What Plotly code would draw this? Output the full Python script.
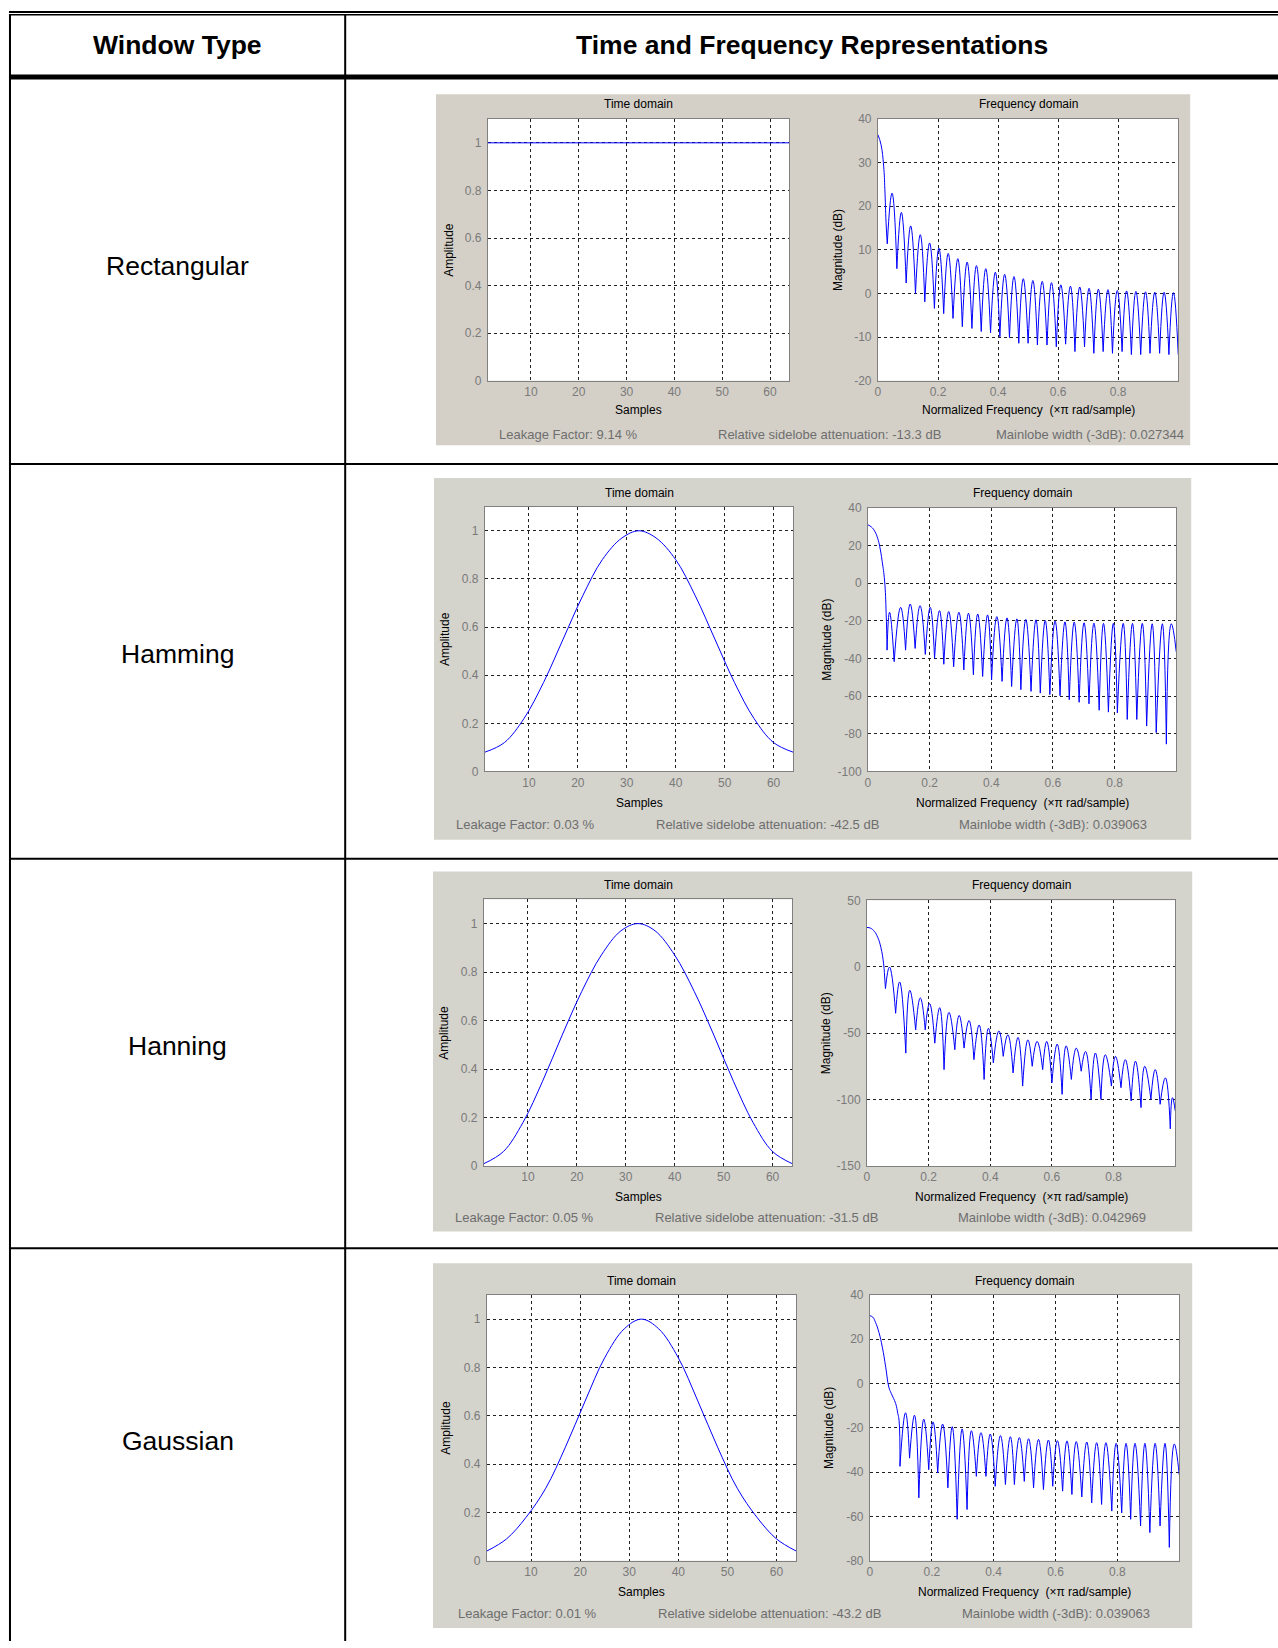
import plotly.graph_objects as go

W, H = 1278, 1648
FONT = "Arial, Liberation Sans, sans-serif"

# ---------------- data ----------------
window_names = ["Rectangular", "Hamming", "Hanning", "Gaussian"]
leakage_factor = ["9.14 %", "0.03 %", "0.05 %", "0.01 %"]
sidelobe_att = ["-13.3 dB", "-42.5 dB", "-31.5 dB", "-43.2 dB"]
mainlobe_width = ["0.027344", "0.039063", "0.042969", "0.039063"]

# time domain (samples 1..64)
rect_t_x = [1, 64]
rect_t_y = [1, 1]
sample_pts = [1, 5, 9, 13, 17, 21, 25, 29, 32.5, 36, 40, 44, 48, 52, 56, 60, 64]
hamm_t_y = [0.08, 0.12, 0.22, 0.37, 0.55, 0.73, 0.88, 0.97, 1.0, 0.97, 0.88, 0.73, 0.55, 0.37, 0.22, 0.12, 0.08]
hann_t_y = [0.01, 0.06, 0.18, 0.35, 0.54, 0.72, 0.87, 0.97, 1.0, 0.97, 0.87, 0.72, 0.54, 0.35, 0.18, 0.06, 0.01]
gauss_t_y = [0.04, 0.09, 0.18, 0.30, 0.47, 0.66, 0.84, 0.96, 1.0, 0.96, 0.84, 0.66, 0.47, 0.30, 0.18, 0.09, 0.04]

# frequency domain: main lobe, then side lobes (nulls and peaks)
rect_main_f = [0, 0.010, 0.019, 0.023, 0.027, 0.031]
rect_main_db = [36.4, 34.2, 29.2, 23.9, 16.3, 11.4]
rect_null_f = [0.031, 0.063, 0.094, 0.125, 0.156, 0.188, 0.219, 0.25, 0.281, 0.313, 0.344, 0.375, 0.406,
               0.438, 0.469, 0.5, 0.531, 0.563, 0.594, 0.625, 0.656, 0.688, 0.719, 0.75, 0.781, 0.813,
               0.844, 0.875, 0.906, 0.938, 0.969, 1.0]
rect_null_db = [11.4, 5.7, 2.4, 0.0, -1.9, -3.4, -4.6, -5.7, -7.6, -8.0, -8.7, -9.0, -9.9, -10.1, -11.4,
                -11.4, -11.8, -11.8, -12.2, -11.6, -13.3, -12.2, -13.7, -13.3, -13.7, -13.3, -14.0,
                -14.0, -13.7, -13.7, -14.0, -14.0]
rect_peak_f = [0.047, 0.078, 0.109, 0.141, 0.172, 0.203, 0.234, 0.266, 0.297, 0.328, 0.359, 0.391, 0.422,
               0.453, 0.484, 0.516, 0.547, 0.578, 0.609, 0.641, 0.672, 0.703, 0.734, 0.766, 0.797, 0.828,
               0.859, 0.891, 0.922, 0.953, 0.984]
rect_peak_db = [23.0, 18.6, 15.5, 13.5, 11.6, 10.4, 9.2, 8.0, 7.2, 6.4, 5.7, 4.9, 4.4, 3.9, 3.4, 3.0,
                2.8, 2.5, 2.0, 1.7, 1.5, 1.2, 1.0, 0.9, 0.7, 0.6, 0.5, 0.4, 0.3, 0.3, 0.2]

hamm_main_f = [0, 0.011, 0.022, 0.032, 0.038, 0.046, 0.054, 0.059, 0.062]
hamm_main_db = [30.9, 29.8, 27.5, 23.5, 19.5, 11.6, 1.1, -16.0, -35.6]
hamm_null_f = [0.062, 0.085, 0.122, 0.153, 0.186, 0.216, 0.246, 0.278, 0.311, 0.342, 0.372, 0.401, 0.435,
               0.466, 0.496, 0.529, 0.559, 0.590, 0.623, 0.653, 0.685, 0.717, 0.750, 0.780, 0.809, 0.841,
               0.872, 0.904, 0.935, 0.968, 1.0]
hamm_null_db = [-35.6, -41.7, -35.6, -34.7, -37.9, -40.0, -43.1, -44.4, -46.1, -48.7, -49.6, -51.4, -52.2,
                -54.9, -56.6, -57.5, -58.4, -59.2, -59.8, -61.9, -63.3, -64.1, -67.5, -68.5, -68.9, -72.4,
                -72.4, -75.9, -79.4, -85.5, -36.5]
hamm_peak_f = [0.070, 0.106, 0.137, 0.169, 0.202, 0.232, 0.262, 0.295, 0.326, 0.356, 0.388, 0.418, 0.451,
               0.483, 0.512, 0.545, 0.575, 0.607, 0.639, 0.669, 0.701, 0.733, 0.764, 0.796, 0.828, 0.858,
               0.890, 0.922, 0.955, 0.984]
hamm_peak_db = [-15.5, -12.9, -11.1, -12.0, -12.9, -14.6, -15.1, -15.5, -16.0, -16.4, -16.9, -17.8, -18.5,
                -19.0, -19.3, -19.5, -19.9, -20.2, -20.6, -20.7, -21.1, -21.3, -21.4, -21.4, -21.4, -21.4,
                -21.4, -21.6, -21.6, -21.6]

hann_main_f = [0, 0.012, 0.024, 0.035, 0.045, 0.054, 0.058, 0.060]
hann_main_db = [29.6, 29.0, 26.6, 22.1, 14.7, 2.2, -10.0, -16.4]
hann_null_f = [0.060, 0.093, 0.126, 0.158, 0.189, 0.220, 0.250, 0.285, 0.315, 0.347, 0.380, 0.410, 0.442,
               0.474, 0.505, 0.536, 0.570, 0.600, 0.633, 0.663, 0.695, 0.727, 0.759, 0.793, 0.824, 0.857,
               0.889, 0.921, 0.951, 0.984, 1.0]
hann_null_db = [-16.4, -35.0, -65.0, -47.5, -47.5, -57.5, -77.4, -62.4, -61.2, -69.9, -84.8, -72.4, -67.4,
                -79.9, -89.8, -74.9, -77.4, -87.3, -96.0, -84.8, -78.6, -99.8, -99.8, -89.8, -91.0, -101.0,
                -106.0, -99.8, -103.5, -122.0, -108.5]
hann_peak_f = [0.073, 0.106, 0.139, 0.173, 0.203, 0.236, 0.266, 0.299, 0.331, 0.364, 0.394, 0.428, 0.457,
               0.490, 0.522, 0.552, 0.583, 0.617, 0.646, 0.679, 0.709, 0.741, 0.773, 0.806, 0.838, 0.871,
               0.901, 0.935, 0.968, 0.991]
hann_peak_db = [-0.2, -11.4, -17.7, -23.4, -27.6, -30.8, -34.3, -36.6, -40.5, -43.8, -46.3, -48.3, -51.2,
                -53.2, -55.0, -56.2, -56.2, -58.2, -59.5, -61.2, -63.7, -64.9, -66.2, -67.4, -69.9, -71.1,
                -74.9, -77.4, -83.6, -98.5]

gauss_main_f = [0, 0.009, 0.018, 0.029, 0.040, 0.051, 0.061, 0.069, 0.083, 0.090, 0.094, 0.097]
gauss_main_db = [30.6, 30.0, 27.6, 23.1, 16.4, 7.4, -1.6, -4.5, -9.0, -13.5, -16.5, -37.4]
gauss_null_f = [0.097, 0.128, 0.158, 0.190, 0.219, 0.252, 0.282, 0.314, 0.344, 0.375, 0.405, 0.438, 0.467,
                0.499, 0.529, 0.561, 0.591, 0.623, 0.653, 0.685, 0.717, 0.749, 0.782, 0.814, 0.843, 0.875,
                0.905, 0.938, 0.968, 1.0]
gauss_null_db = [-37.4, -33.7, -51.6, -38.9, -40.4, -47.1, -61.3, -56.9, -41.9, -41.9, -46.4, -45.6, -45.6,
                 -44.2, -47.1, -47.9, -46.4, -48.6, -50.1, -51.2, -53.9, -54.6, -57.6, -58.4, -61.3, -64.3,
                 -67.3, -64.3, -74.0, -41.2]
gauss_peak_f = [0.115, 0.144, 0.174, 0.204, 0.235, 0.266, 0.298, 0.328, 0.359, 0.389, 0.422, 0.454, 0.483,
                0.513, 0.545, 0.577, 0.606, 0.637, 0.667, 0.701, 0.733, 0.763, 0.796, 0.828, 0.857, 0.889,
                0.922, 0.954, 0.984]
gauss_peak_db = [-13.2, -14.3, -16.1, -17.3, -18.3, -19.5, -20.5, -21.3, -22.2, -22.8, -23.5, -24.0, -24.4,
                 -24.9, -25.2, -25.5, -25.8, -25.9, -26.2, -26.4, -26.7, -26.7, -27.0, -27.0, -27.0, -27.0,
                 -27.0, -27.0, -27.3]

time_series = [(rect_t_x, rect_t_y), (sample_pts, hamm_t_y), (sample_pts, hann_t_y), (sample_pts, gauss_t_y)]
freq_series = [
    (rect_main_f, rect_main_db, rect_null_f, rect_null_db, rect_peak_f, rect_peak_db),
    (hamm_main_f, hamm_main_db, hamm_null_f, hamm_null_db, hamm_peak_f, hamm_peak_db),
    (hann_main_f, hann_main_db, hann_null_f, hann_null_db, hann_peak_f, hann_peak_db),
    (gauss_main_f, gauss_main_db, gauss_null_f, gauss_null_db, gauss_peak_f, gauss_peak_db),
]
freq_yticks = [(-20, 40, 10), (-100, 40, 20), (-150, 50, 50), (-80, 40, 20)]

# ---------------- layout geometry (pixels) ----------------
rows = [
    dict(panel=(434, 88, 1190, 442), t=(486, 113, 788, 377), f=(877, 113, 1178, 377), title_y=98,
         xlab_y=406, info_y=431, ylab_t=447, ylab_f=837, info_x=(495, 715, 993), label_y=261, pcol="#d4d0c8"),
    dict(panel=(432, 475, 1191, 840), t=(483, 504, 792, 771), f=(867, 505, 1176, 771), title_y=490,
         xlab_y=803, info_y=824, ylab_t=443, ylab_f=826, info_x=(452, 653, 956), label_y=653, pcol="#d4d3cc"),
    dict(panel=(431, 872, 1192, 1235), t=(482, 900, 791, 1169), f=(866, 901, 1175, 1169), title_y=886,
         xlab_y=1200, info_y=1221, ylab_t=442, ylab_f=825, info_x=(451, 652, 955), label_y=1048, pcol="#d4d3cc"),
    dict(panel=(431, 1267, 1192, 1635), t=(485, 1299, 795, 1567), f=(869, 1299, 1179, 1567), title_y=1285,
         xlab_y=1599, info_y=1620, ylab_t=444, ylab_f=828, info_x=(454, 655, 959), label_y=1446, pcol="#d4d3cc"),
]


def px(x):
    return x / W


def py(y):
    return 1 - y / H


def lobes(main_f, main_db, null_f, null_db, peak_f, peak_db):
    xs, ys = list(main_f), list(main_db)
    for i in range(len(peak_f)):
        xs += [None, null_f[i], peak_f[i], null_f[i + 1]]
        ys += [None, null_db[i], peak_db[i], null_db[i + 1]]
    return xs, ys


fig = go.Figure()
shapes = []
annotations = []
layout_axes = {}

axis_common = dict(showline=True, mirror=True, linecolor="#808080", linewidth=1,
                   showgrid=True, gridcolor="#202020", gridwidth=1, griddash="3px,3px",
                   zeroline=False, ticks="", fixedrange=True,
                   tickfont=dict(family=FONT, size=12, color="#7a7a7a"))

for r, row in enumerate(rows):
    x0, y0, x1, y1 = row["panel"]
    shapes.append(dict(type="rect", xref="paper", yref="paper", x0=px(x0), x1=px(x1), y0=py(y1), y1=py(y0),
                       fillcolor=row["pcol"], line=dict(width=0), layer="below"))
    for k, key in enumerate(["t", "f"]):
        idx = 2 * r + k + 1
        sfx = "" if idx == 1 else str(idx)
        ax0, ay0, ax1, ay1 = row[key]
        shapes.append(dict(type="rect", xref="paper", yref="paper", x0=px(ax0), x1=px(ax1), y0=py(ay1),
                           y1=py(ay0), fillcolor="white", line=dict(width=0), layer="below"))
        if key == "t":
            tx, ty = time_series[r]
            fig.add_trace(go.Scatter(x=tx, y=ty, mode="lines",
                                     line=dict(color="#0000ff", width=1, shape="spline", smoothing=1),
                                     xaxis="x" + sfx, yaxis="y" + sfx, hoverinfo="skip"))
            xcfg = dict(range=[1, 64], tickvals=[10, 20, 30, 40, 50, 60],
                        ticktext=["10", "20", "30", "40", "50", "60"])
            ycfg = dict(range=[0, 1.1], tickvals=[0, 0.2, 0.4, 0.6, 0.8, 1.0],
                        ticktext=["0", "0.2", "0.4", "0.6", "0.8", "1"])
            title, xlab, ylab, ylx = "Time domain", "Samples", "Amplitude", row["ylab_t"]
        else:
            fx, fy = lobes(*freq_series[r])
            fig.add_trace(go.Scatter(x=fx, y=fy, mode="lines", connectgaps=False,
                                     line=dict(color="#0000ff", width=1, shape="spline", smoothing=1.3),
                                     xaxis="x" + sfx, yaxis="y" + sfx, hoverinfo="skip"))
            lo, hi, st = freq_yticks[r]
            yt = list(range(lo, hi + 1, st))
            xcfg = dict(range=[0, 1], tickvals=[0, 0.2, 0.4, 0.6, 0.8],
                        ticktext=["0", "0.2", "0.4", "0.6", "0.8"])
            ycfg = dict(range=[lo, hi], tickvals=yt, ticktext=[str(v) for v in yt])
            title = "Frequency domain"
            xlab = "Normalized Frequency \u00a0(\u00d7\u03c0 rad/sample)"
            ylab, ylx = "Magnitude (dB)", row["ylab_f"]
        layout_axes["xaxis" + sfx] = dict(axis_common, domain=[px(ax0), px(ax1)], anchor="y" + sfx, **xcfg)
        layout_axes["yaxis" + sfx] = dict(axis_common, domain=[py(ay1), py(ay0)], anchor="x" + sfx,
                                          ticklabelstandoff=3, **ycfg)
        cx = px((ax0 + ax1) / 2)
        annotations.append(dict(x=cx, y=py(row["title_y"]), text=title, showarrow=False, xref="paper",
                                yref="paper", xanchor="center", yanchor="middle",
                                font=dict(family=FONT, size=12, color="#000000")))
        annotations.append(dict(x=cx, y=py(row["xlab_y"]), text=xlab, showarrow=False, xref="paper",
                                yref="paper", xanchor="center", yanchor="middle",
                                font=dict(family=FONT, size=12, color="#000000")))
        annotations.append(dict(x=px(ylx), y=py((ay0 + ay1) / 2), text=ylab, showarrow=False, xref="paper",
                                yref="paper", xanchor="center", yanchor="middle", textangle=-90,
                                font=dict(family=FONT, size=12, color="#000000")))
    infos = ["Leakage Factor: " + leakage_factor[r],
             "Relative sidelobe attenuation: " + sidelobe_att[r],
             "Mainlobe width (-3dB): " + mainlobe_width[r]]
    for ix, txt in zip(row["info_x"], infos):
        annotations.append(dict(x=px(ix), y=py(row["info_y"]), text=txt, showarrow=False, xref="paper",
                                yref="paper", xanchor="left", yanchor="middle",
                                font=dict(family=FONT, size=13, color="#6e6e6e")))
    annotations.append(dict(x=px(175), y=py(row["label_y"]), text=window_names[r], showarrow=False,
                            xref="paper", yref="paper", xanchor="center", yanchor="middle",
                            font=dict(family=FONT, size=26.5, color="#000000")))

# header
annotations.append(dict(x=px(175), y=py(38), text="<b>Window Type</b>", showarrow=False, xref="paper",
                        yref="paper", xanchor="center", yanchor="middle",
                        font=dict(family=FONT, size=26.5, color="#000000")))
annotations.append(dict(x=px(811), y=py(38), text="<b>Time and Frequency Representations</b>",
                        showarrow=False, xref="paper", yref="paper", xanchor="center", yanchor="middle",
                        font=dict(family=FONT, size=26.5, color="#000000")))


# table rules
def hline(y, w, xa=6, xb=W):
    shapes.append(dict(type="line", xref="paper", yref="paper", x0=px(xa), x1=px(xb), y0=py(y), y1=py(y),
                       line=dict(color="#000000", width=w), layer="above"))


def vline(x, w, ya=7, yb=H):
    shapes.append(dict(type="line", xref="paper", yref="paper", x0=px(x), x1=px(x), y0=py(ya), y1=py(yb),
                       line=dict(color="#000000", width=w), layer="above"))


hline(5, 2)
hline(7.8, 1.5)
hline(70.5, 5)
hline(461, 2)
hline(859, 2)
hline(1252, 2)
vline(7, 2)
vline(343, 2)

fig.update_layout(width=W, height=H, margin=dict(l=0, r=0, t=0, b=0), autosize=False,
                  paper_bgcolor="white", plot_bgcolor="white", showlegend=False, hovermode=False,
                  shapes=shapes, annotations=annotations, **layout_axes)

fig.write_html("out.html")
